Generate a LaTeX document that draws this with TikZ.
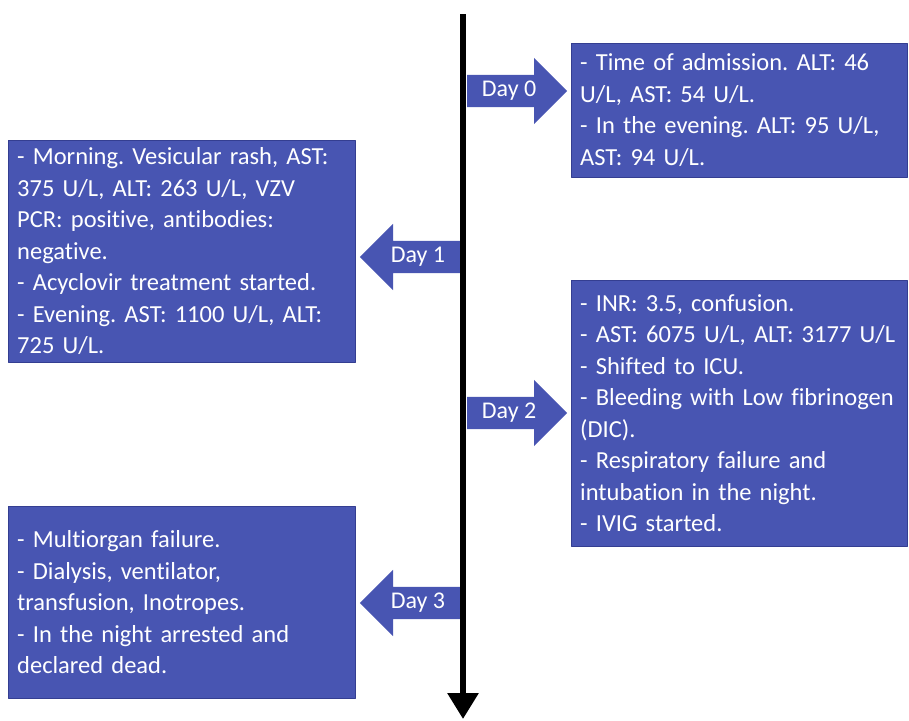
\documentclass[tikz,border=0pt]{standalone}
\usepackage{fontspec}
\setmainfont{Carlito}[Ligatures=NoCommon]
\usetikzlibrary{shapes.arrows,arrows.meta,positioning}
\definecolor{boxblue}{RGB}{72,85,178}
\definecolor{boxline}{RGB}{52,62,145}
\frenchspacing
\begin{document}
\begin{tikzpicture}[x=1pt,y=-1pt, line join=round,
    info/.style={draw=boxline,fill=boxblue,text=white,align=left,anchor=north west,
      inner xsep=9pt,inner ysep=4pt,minimum height=#1,font=\fontsize{24.5}{31.5}\selectfont},
    day/.style={single arrow,fill=boxblue,text=white,anchor=tail,minimum height=100pt,
      single arrow head extend=17pt,text height=15pt,text depth=5pt,inner ysep=6pt,
      inner xsep=2pt,font=\fontsize{24}{28}\selectfont}]
  \useasboundingbox (0,0) rectangle (909,720);
  \def\rw{318pt} \def\lw{329pt} % text widths
  % time line
  \coordinate (top) at (463,14);
  \coordinate (bot) at (463,719);
  \draw[line width=6pt,-{Triangle[width=30pt,length=26pt]}] (top)--(bot);
  % day arrows
  \node[day] (d0) at (467,91) {Day 0};
  \node[day,shape border rotate=180] (d1) at (460,257) {Day 1};
  \node[day] (d2) at (467,413) {Day 2};
  \node[day,shape border rotate=180] (d3) at (460,603) {Day 3};
  % boxes
  \node[info=134pt,text width=\rw] (b0) at (571,43) {- Time of admission. ALT: 46\\U/L, AST: 54 U/L.\\- In the evening. ALT: 95 U/L,\\AST: 94 U/L.};
  \node[info=222pt,text width=\lw] (b1) at (8,140) {- Morning. Vesicular rash, AST:\\375 U/L, ALT: 263 U/L, VZV\\PCR: positive, antibodies:\\negative.\\- Acyclovir treatment started.\\- Evening. AST: 1100 U/L, ALT:\\725 U/L.};
  \node[info=266pt,text width=\rw] (b2) at (571,280) {- INR: 3.5, confusion.\\- AST: 6075 U/L, ALT: 3177 U/L\\- Shifted to ICU.\\- Bleeding with Low fibrinogen\\(DIC).\\- Respiratory failure and\\intubation in the night.\\- IVIG started.};
  \node[info=192pt,text width=\lw] (b3) at (8,506) {- Multiorgan failure.\\- Dialysis, ventilator,\\transfusion, Inotropes.\\- In the night arrested and\\declared dead.};
\end{tikzpicture}
\end{document}
